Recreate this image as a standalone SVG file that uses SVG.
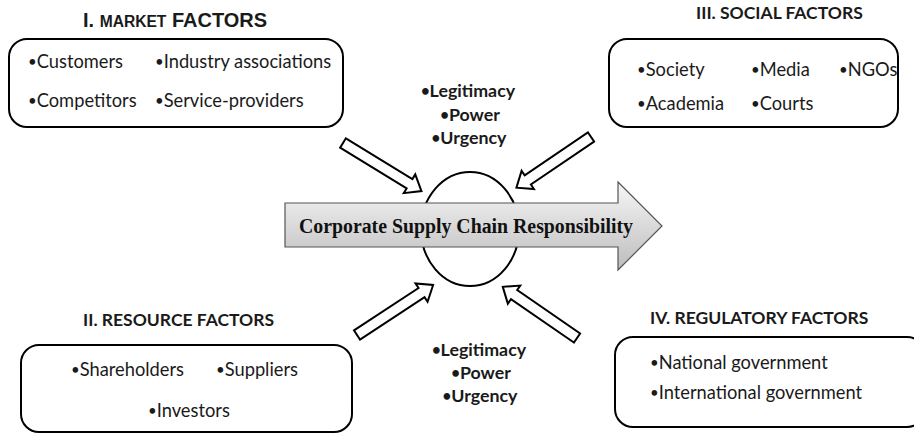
<svg xmlns="http://www.w3.org/2000/svg" width="914" height="434" viewBox="0 0 914 434">
<defs>
<linearGradient id="g" x1="0" y1="0" x2="0" y2="1">
<stop offset="0" stop-color="#f6f6f6"/>
<stop offset="1" stop-color="#bdbdbd"/>
</linearGradient>
<path id="ba" d="M0,-5.5 L78,-5.5 L78,-11 L92,0 L78,11 L78,5.5 L0,5.5 Z"/>
</defs>
<style>
.box{fill:#fff;stroke:#000;stroke-width:2}
.t{font-family:Lato,"Open Sans","Liberation Sans",sans-serif;font-weight:bold;font-size:17.5px;fill:#1a1a1a}
.i{font-family:Lato,"Open Sans","Liberation Sans",sans-serif;font-size:18.3px;fill:#1a1a1a}
.s{font-family:Lato,"Open Sans","Liberation Sans",sans-serif;font-weight:bold;font-size:17.8px;fill:#1a1a1a;text-anchor:middle}
.b{font-size:15px}
.ar{fill:#fff;stroke:#000;stroke-width:2;stroke-linejoin:miter}
</style>
<rect width="914" height="434" fill="#fff"/>

<g id="market">
<text x="83" y="27" font-family="Liberation Sans,Arial,sans-serif" font-weight="bold" font-size="20" fill="#1a1a1a">I. <tspan font-size="15.6">MARKET</tspan> FACTORS</text>
<rect class="box" x="9" y="39" width="334" height="88" rx="18"/>
<text class="i" x="28" y="68"><tspan class="b" dy="-1.5">•</tspan><tspan dy="1.5">Customers</tspan></text>
<text class="i" x="155" y="68"><tspan class="b" dy="-1.5">•</tspan><tspan dy="1.5">Industry associations</tspan></text>
<text class="i" x="28" y="107"><tspan class="b" dy="-1.5">•</tspan><tspan dy="1.5">Competitors</tspan></text>
<text class="i" x="155" y="107"><tspan class="b" dy="-1.5">•</tspan><tspan dy="1.5">Service-providers</tspan></text>
</g>

<g id="social">
<text class="t" x="696" y="19">III. SOCIAL FACTORS</text>
<rect class="box" x="609" y="39" width="289" height="88" rx="18"/>
<text class="i" x="637" y="76"><tspan class="b" dy="-1.5">•</tspan><tspan dy="1.5">Society</tspan></text>
<text class="i" x="751" y="76"><tspan class="b" dy="-1.5">•</tspan><tspan dy="1.5">Media</tspan></text>
<text class="i" x="839" y="76"><tspan class="b" dy="-1.5">•</tspan><tspan dy="1.5">NGOs</tspan></text>
<text class="i" x="637" y="110"><tspan class="b" dy="-1.5">•</tspan><tspan dy="1.5">Academia</tspan></text>
<text class="i" x="751" y="110"><tspan class="b" dy="-1.5">•</tspan><tspan dy="1.5">Courts</tspan></text>
</g>

<g id="resource">
<text class="t" x="83" y="326">II. RESOURCE FACTORS</text>
<rect class="box" x="21" y="345" width="331" height="87" rx="18"/>
<text class="i" x="71" y="376"><tspan class="b" dy="-1.5">•</tspan><tspan dy="1.5">Shareholders</tspan></text>
<text class="i" x="216" y="376"><tspan class="b" dy="-1.5">•</tspan><tspan dy="1.5">Suppliers</tspan></text>
<text class="i" x="148" y="417"><tspan class="b" dy="-1.5">•</tspan><tspan dy="1.5">Investors</tspan></text>
</g>

<g id="regulatory">
<text class="t" x="650" y="324">IV. REGULATORY FACTORS</text>
<rect class="box" x="615" y="337" width="310" height="90" rx="18"/>
<text class="i" x="650" y="369"><tspan class="b" dy="-1.5">•</tspan><tspan dy="1.5">National government</tspan></text>
<text class="i" x="650" y="399"><tspan class="b" dy="-1.5">•</tspan><tspan dy="1.5">International government</tspan></text>
</g>

<g id="stake-top">
<text class="s" x="468" y="97"><tspan class="b" dy="-1.5">•</tspan><tspan dy="1.5">Legitimacy</tspan></text>
<text class="s" x="470" y="121"><tspan class="b" dy="-1.5">•</tspan><tspan dy="1.5">Power</tspan></text>
<text class="s" x="469" y="144"><tspan class="b" dy="-1.5">•</tspan><tspan dy="1.5">Urgency</tspan></text>
</g>

<g id="stake-bottom">
<text class="s" x="479" y="356"><tspan class="b" dy="-1.5">•</tspan><tspan dy="1.5">Legitimacy</tspan></text>
<text class="s" x="481" y="379"><tspan class="b" dy="-1.5">•</tspan><tspan dy="1.5">Power</tspan></text>
<text class="s" x="480" y="402"><tspan class="b" dy="-1.5">•</tspan><tspan dy="1.5">Urgency</tspan></text>
</g>

<g id="cscr">
<ellipse cx="470" cy="229" rx="49" ry="57" fill="#fff" stroke="#000" stroke-width="2"/>
<polygon points="285,203 618,203 618,182 662,226 618,270 618,247 285,247" fill="url(#g)" stroke="#555" stroke-width="1.2"/>
<text x="299" y="233" font-family="Liberation Serif,'Times New Roman',serif" font-weight="bold" font-size="20" fill="#111" textLength="334" lengthAdjust="spacingAndGlyphs">Corporate Supply Chain Responsibility</text>
</g>

<g id="connectors">
<use href="#ba" class="ar" transform="translate(343,143) rotate(31.5)"/>
<use href="#ba" class="ar" transform="translate(591,137) rotate(145.8) scale(0.98,1)"/>
<use href="#ba" class="ar" transform="translate(357,335) rotate(-33.3) scale(0.99,1)"/>
<use href="#ba" class="ar" transform="translate(577,338) rotate(214.6) scale(0.98,1)"/>
</g>
</svg>
